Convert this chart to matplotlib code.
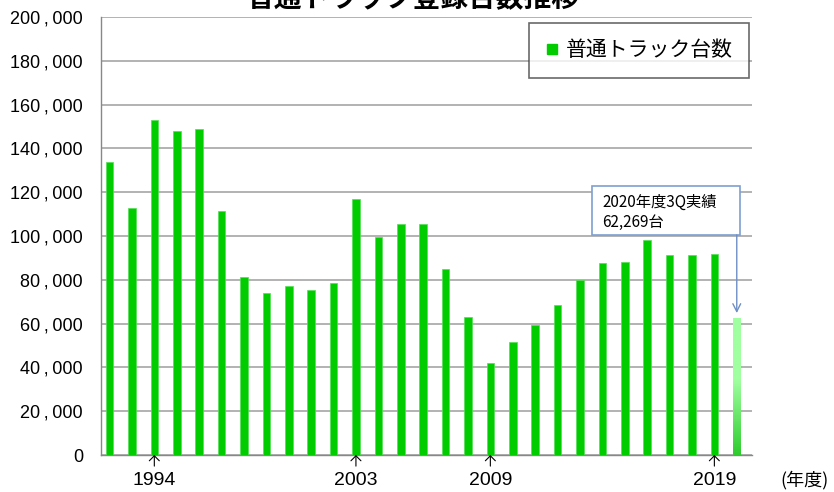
import matplotlib
matplotlib.use("Agg")
import matplotlib.pyplot as plt
import numpy as np
from matplotlib.patches import Rectangle
from matplotlib.lines import Line2D
from matplotlib.colors import LinearSegmentedColormap

plt.rcParams['font.family'] = ['Liberation Sans', 'Noto Sans CJK JP', 'DejaVu Sans']

# ---- data ----
years = list(range(1992, 2021))
values = [133600, 112800, 153100, 148100, 148700, 111500, 81400, 74100, 77300, 75300,
          78600, 117100, 99500, 105600, 105600, 85000, 63100, 41800, 51600, 59400,
          68600, 80000, 87600, 88200, 98100, 91400, 91400, 91900, 62269]
label_years = [1994, 2003, 2009, 2019]
title = "普通トラック登録台数推移"
series_name = "普通トラック台数"
note_lines = ["2020年度3Q実績", "62,269台"]
x_unit = "(年度)"

GREEN = "#00cc00"

fig = plt.figure(figsize=(8.34, 4.92), dpi=100)
ax = fig.add_axes([101/834, 37/492, 651/834, 438/492])

x = np.arange(len(years))
bw = 0.34
ax.bar(x[:-1], values[:-1], width=bw, color=GREEN, edgecolor="#55dd55", linewidth=0.5, zorder=3)

# gradient last bar
xl = x[-1]
vl = values[-1]
ax.bar([xl], [vl], width=bw, color="none", edgecolor="none", zorder=3)
cmap = LinearSegmentedColormap.from_list("g", [(0.0, "#2ecc2e"), (0.55, "#a0ffa0"), (1.0, "#a0ffa0")])
grad = np.linspace(0, 1, 256).reshape(-1, 1)
ax.imshow(grad, cmap=cmap, origin="lower", aspect="auto",
          extent=[xl - bw/2, xl + bw/2, 0, vl], zorder=3)

ax.set_xlim(-0.38, 28.68)
ax.set_ylim(0, 200000)

yt = np.arange(0, 200001, 20000)
ax.set_yticks(yt)
ax.set_yticklabels([f"{v:,}".replace(",", "\u2009,\u2009") for v in yt], fontsize=13)
ax.yaxis.grid(True, color="#a6a6a6", linewidth=1.2, zorder=0)
ax.set_axisbelow(True)
ax.tick_params(axis="y", length=0, pad=13)

tick_idx = [years.index(y) for y in label_years]
ax.set_xticks(tick_idx)
ax.set_xticklabels([str(y) for y in label_years], fontsize=14)
ax.tick_params(axis="x", length=0, pad=12)

for i in tick_idx:
    ax.annotate("", xy=(i, 0), xytext=(0, -8), textcoords="offset points",
                arrowprops=dict(arrowstyle="->,head_length=0.3,head_width=0.3", color="black", lw=0.8,
                                shrinkA=0, shrinkB=0, mutation_scale=12),
                annotation_clip=False)

for s in ["top", "right"]:
    ax.spines[s].set_visible(False)
for s in ["left", "bottom"]:
    ax.spines[s].set_color("#888888")
    ax.spines[s].set_linewidth(1.0)

# legend
handle = Line2D([], [], marker="s", linestyle="none", color=GREEN, markersize=7)
leg = ax.legend([handle], [series_name], loc="upper right", bbox_to_anchor=(0.995, 0.986),
                prop={"family": ["Noto Sans CJK JP"], "size": 15}, frameon=True, fancybox=False,
                borderpad=0.78, handlelength=0.6, handletextpad=0.35, borderaxespad=0)
leg.get_frame().set_edgecolor("#444444")
leg.get_frame().set_linewidth(1.2)

# annotation box
box = Rectangle((21.56, 100500), 6.6, 22400, facecolor="white", edgecolor="#7f9fd0",
                linewidth=1.2, zorder=5)
ax.add_patch(box)
ax.text(22.0, 115300, note_lines[0], fontsize=11, va="center", ha="left",
        family=["Noto Sans CJK JP"], zorder=6)
ax.text(22.0, 106300, note_lines[1], fontsize=11, va="center", ha="left",
        family=["Noto Sans CJK JP"], zorder=6)
ax.annotate("", xy=(xl, vl), xytext=(xl, 100500),
            arrowprops=dict(arrowstyle="->", color="#6f8fc4", lw=1.0,
                            shrinkA=0, shrinkB=4, mutation_scale=14), zorder=6)

fig.text(805/834, (492-480)/492, x_unit, fontsize=13, ha="center", va="center",
         family=["Noto Sans CJK JP"])
fig.text(413/834, (492-6)/492, title, fontsize=20, fontweight="bold", ha="center",
         va="baseline", family=["Noto Sans CJK JP"])

fig.savefig("out.png", dpi=100)
